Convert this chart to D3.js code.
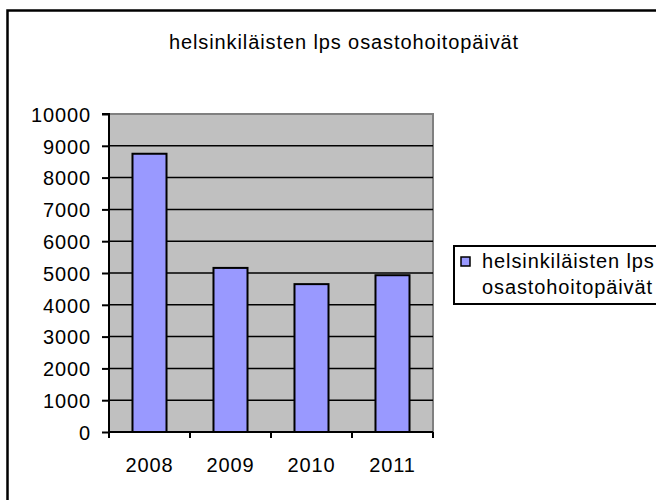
<!DOCTYPE html>
<html>
<head>
<meta charset="utf-8">
<script src="https://cdn.jsdelivr.net/npm/d3@7"></script>
<style>
  html, body { margin: 0; padding: 0; background: #fff; }
  svg { display: block; }
  text { font-family: "Liberation Sans", Arial, sans-serif; font-size: 20px; letter-spacing: 0.9px; fill: #000; }
</style>
</head>
<body>
<svg id="chart" width="656" height="500"></svg>
<script>
const title = "helsinkiläisten lps osastohoitopäivät";
const categories = ["2008", "2009", "2010", "2011"];
const values = [8750, 5160, 4650, 4930];
const yTicks = [0, 1000, 2000, 3000, 4000, 5000, 6000, 7000, 8000, 9000, 10000];
const legendLines = ["helsinkiläisten lps", "osastohoitopäivät"];

const svg = d3.select("#chart");

// outer chart border (extends past the window on right/bottom)
svg.append("rect").attr("x", 7.5).attr("y", 10.5).attr("width", 660).attr("height", 500)
  .attr("fill", "#fff").attr("stroke", "#000").attr("stroke-width", 2.5);

const plot = { left: 109, right: 433, top: 114, bottom: 432 };

const x = d3.scaleBand().domain(categories).range([plot.left, plot.right])
  .paddingInner(0.58).paddingOuter(0.29);
const xb = d3.scaleBand().domain(categories).range([plot.left, plot.right]);
const y = d3.scaleLinear().domain([0, 10000]).range([plot.bottom, plot.top]);

// plot area background
svg.append("rect").attr("x", plot.left).attr("y", plot.top)
  .attr("width", plot.right - plot.left).attr("height", plot.bottom - plot.top)
  .attr("fill", "#C0C0C0");
// gray frame top & right
svg.append("path")
  .attr("d", `M${plot.left},${plot.top}H${plot.right}V${plot.bottom}`)
  .attr("fill", "none").attr("stroke", "#808080").attr("stroke-width", 2);

// gridlines
svg.append("g").selectAll("line").data(yTicks.filter(t => t > 0 && t < 10000)).join("line")
  .attr("x1", plot.left).attr("x2", plot.right)
  .attr("y1", d => y(d)).attr("y2", d => y(d))
  .attr("stroke", "#000").attr("stroke-width", 1.5);

// bars
svg.append("g").selectAll("rect").data(values).join("rect")
  .attr("x", (d, i) => x(categories[i]))
  .attr("y", d => y(d))
  .attr("width", x.bandwidth())
  .attr("height", d => y(0) - y(d))
  .attr("fill", "#9999FF").attr("stroke", "#000").attr("stroke-width", 2);

// y axis
const yAxis = d3.axisLeft(y).tickValues(yTicks).tickSize(7).tickPadding(11).tickFormat(d3.format("d"));
const gy = svg.append("g").attr("transform", `translate(${plot.left},0)`).call(yAxis);
gy.select(".domain").attr("stroke", "#000").attr("stroke-width", 2).attr("d", `M-7,${plot.top}H0V${plot.bottom}`);
gy.selectAll(".tick line").attr("stroke", "#000").attr("stroke-width", 2);
gy.selectAll(".tick text").attr("font-size", null).attr("font-family", null).attr("fill", "#000").attr("dy", "0.36em");
gy.attr("font-size", null).attr("font-family", null);

// x axis
const boundaries = categories.map(c => xb(c)).concat([plot.right]);
svg.append("line").attr("x1", plot.left).attr("x2", plot.right)
  .attr("y1", plot.bottom).attr("y2", plot.bottom).attr("stroke", "#000").attr("stroke-width", 2);
svg.append("g").selectAll("line").data(boundaries).join("line")
  .attr("x1", d => d).attr("x2", d => d)
  .attr("y1", plot.bottom).attr("y2", plot.bottom + 6)
  .attr("stroke", "#000").attr("stroke-width", 2);
svg.append("g").selectAll("text").data(categories).join("text")
  .attr("x", d => xb(d) + xb.bandwidth() / 2)
  .attr("y", 472)
  .attr("text-anchor", "middle")
  .text(d => d);

// title
svg.append("text").attr("x", 344).attr("y", 49).attr("text-anchor", "middle").text(title);

// legend
const lg = svg.append("g");
lg.append("rect").attr("x", 454).attr("y", 246).attr("width", 220).attr("height", 58)
  .attr("fill", "#fff").attr("stroke", "#000").attr("stroke-width", 2);
lg.append("rect").attr("x", 461).attr("y", 257).attr("width", 9).attr("height", 9)
  .attr("fill", "#9999FF").attr("stroke", "#000").attr("stroke-width", 1.5);
lg.selectAll("text.l").data(legendLines).join("text").attr("class", "l")
  .attr("x", 482).attr("y", (d, i) => 268 + i * 26)
  .text(d => d);
</script>
</body>
</html>
